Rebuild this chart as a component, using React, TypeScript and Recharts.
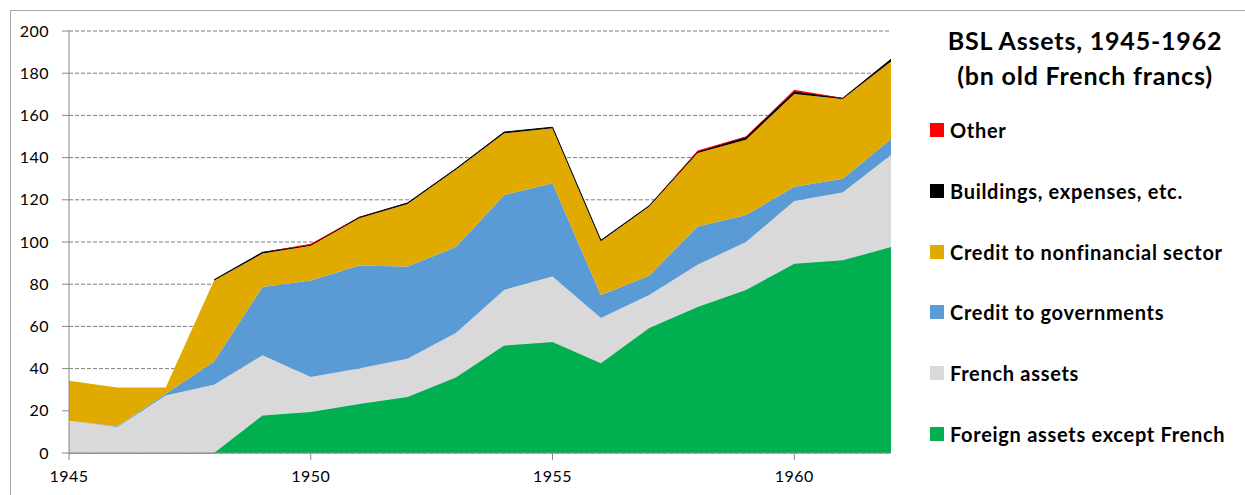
import { Area, AreaChart, CartesianGrid, XAxis, YAxis } from "recharts";

const years = [1945, 1946, 1947, 1948, 1949, 1950, 1951, 1952, 1953, 1954, 1955, 1956, 1957, 1958, 1959, 1960, 1961, 1962];
const foreign = [0, 0, 0, 0, 17.8, 19.4, 23.2, 26.5, 35.8, 50.9, 52.6, 42.5, 59.2, 69.2, 77.2, 89.7, 91.3, 97.6];
const french = [15.3, 12.3, 27.3, 32.4, 28.5, 16.6, 16.9, 18.2, 21.1, 26.4, 31.0, 21.5, 15.7, 20.0, 22.8, 29.7, 32.2, 43.6];
const governments = [0, 0.4, 0.8, 11.0, 32.4, 45.8, 48.8, 43.7, 40.7, 45.0, 44.2, 10.9, 9.1, 18.2, 12.8, 6.8, 6.5, 7.6];
const nonfinancial = [19.0, 18.4, 3.0, 38.4, 15.8, 16.4, 22.3, 29.6, 36.6, 29.2, 26.1, 25.5, 32.8, 34.8, 35.7, 43.9, 37.8, 36.8];
// no buildings figure before 1948
const buildings = [null, null, null, 0.3, 0.6, 0.4, 0.5, 0.5, 0.5, 0.6, 0.5, 0.4, 0.4, 0.6, 1.2, 1.2, 0.3, 1.0];
const other = [0, 0, 0, 0, 0, 0.6, 0.1, 0, 0, 0, 0, 0, 0, 0.6, 0.3, 0.8, 0.2, 0];

const yTicks = [0, 20, 40, 60, 80, 100, 120, 140, 160, 180, 200];
const xTicks = [1945, 1950, 1955, 1960];

const data = years.map((year, i) => ({
  year,
  foreign: foreign[i],
  french: french[i],
  governments: governments[i],
  nonfinancial: nonfinancial[i],
  buildings: buildings[i],
  other: other[i],
}));

const series = [
  { key: "foreign", name: "Foreign assets except French", color: "#00b050", line: true },
  { key: "french", name: "French assets", color: "#d9d9d9", line: false },
  { key: "governments", name: "Credit to governments", color: "#5b9bd5", line: false },
  { key: "nonfinancial", name: "Credit to nonfinancial sector", color: "#e1aa00", line: false },
  { key: "buildings", name: "Buildings, expenses, etc.", color: "#000000", line: true },
  { key: "other", name: "Other", color: "#ff0000", line: false },
];

const font = "Lato, 'Noto Sans', sans-serif";
const axisColor = "#868686";
const tickStyle = { fontSize: 16, fill: "#000", fontFamily: font, letterSpacing: 0.5 };

export default function App() {
  const legendRows = [...series].reverse();
  return (
    <div style={{ position: "absolute", left: 0, top: 0, width: 1245, height: 495, overflow: "hidden", background: "#fff", fontFamily: font }}>
      <div style={{ position: "absolute", left: 10, top: 10, width: 1300, height: 600, border: "1px solid #a6a6a6" }} />
      <div style={{ position: "absolute", left: 0, top: 0 }}>
        <AreaChart width={900} height={495} data={data} margin={{ top: 31, right: 9, left: 9, bottom: 12 }}>
          <CartesianGrid vertical={false} stroke="#808080" strokeDasharray="4 2" />
          <XAxis
            dataKey="year"
            type="number"
            domain={[1945, 1962]}
            ticks={xTicks}
            height={30}
            tickSize={7}
            tickMargin={11}
            tick={tickStyle}
            stroke={axisColor}
            tickLine={{ stroke: axisColor }}
          />
          <YAxis
            domain={[0, 200]}
            ticks={yTicks}
            width={60}
            tickSize={7}
            tickMargin={13}
            tick={tickStyle}
            stroke={axisColor}
            tickLine={{ stroke: axisColor }}
            interval={0}
          />
          {series.map((s) => (
            <Area
              key={s.key}
              type="linear"
              dataKey={s.key}
              name={s.name}
              stackId="a"
              fill={s.color}
              fillOpacity={1}
              stroke={s.line ? s.color : "none"}
              strokeWidth={1}
              connectNulls={false}
              isAnimationActive={false}
              dot={false}
              activeDot={false}
            />
          ))}
        </AreaChart>
      </div>
      <div style={{ position: "absolute", left: 924, top: 23, width: 312, textAlign: "center", fontWeight: 700, fontSize: 25, lineHeight: "35px", letterSpacing: 0.8, color: "#000" }}>
        <div style={{ paddingLeft: 10 }}>BSL Assets, 1945-1962</div>
        <div style={{ paddingLeft: 10 }}>(bn old French francs)</div>
      </div>
      {legendRows.map((s, i) => (
        <div
          key={s.key}
          style={{ position: "absolute", left: 930, top: 130 + i * 60.8 - 12, height: 24, display: "flex", alignItems: "center", whiteSpace: "nowrap" }}
        >
          <div style={{ width: 14, height: 14, background: s.color, marginRight: 6 }} />
          <span style={{ fontSize: 20, fontWeight: 700, letterSpacing: 0.7, color: "#000" }}>{s.name}</span>
        </div>
      ))}
    </div>
  );
}
